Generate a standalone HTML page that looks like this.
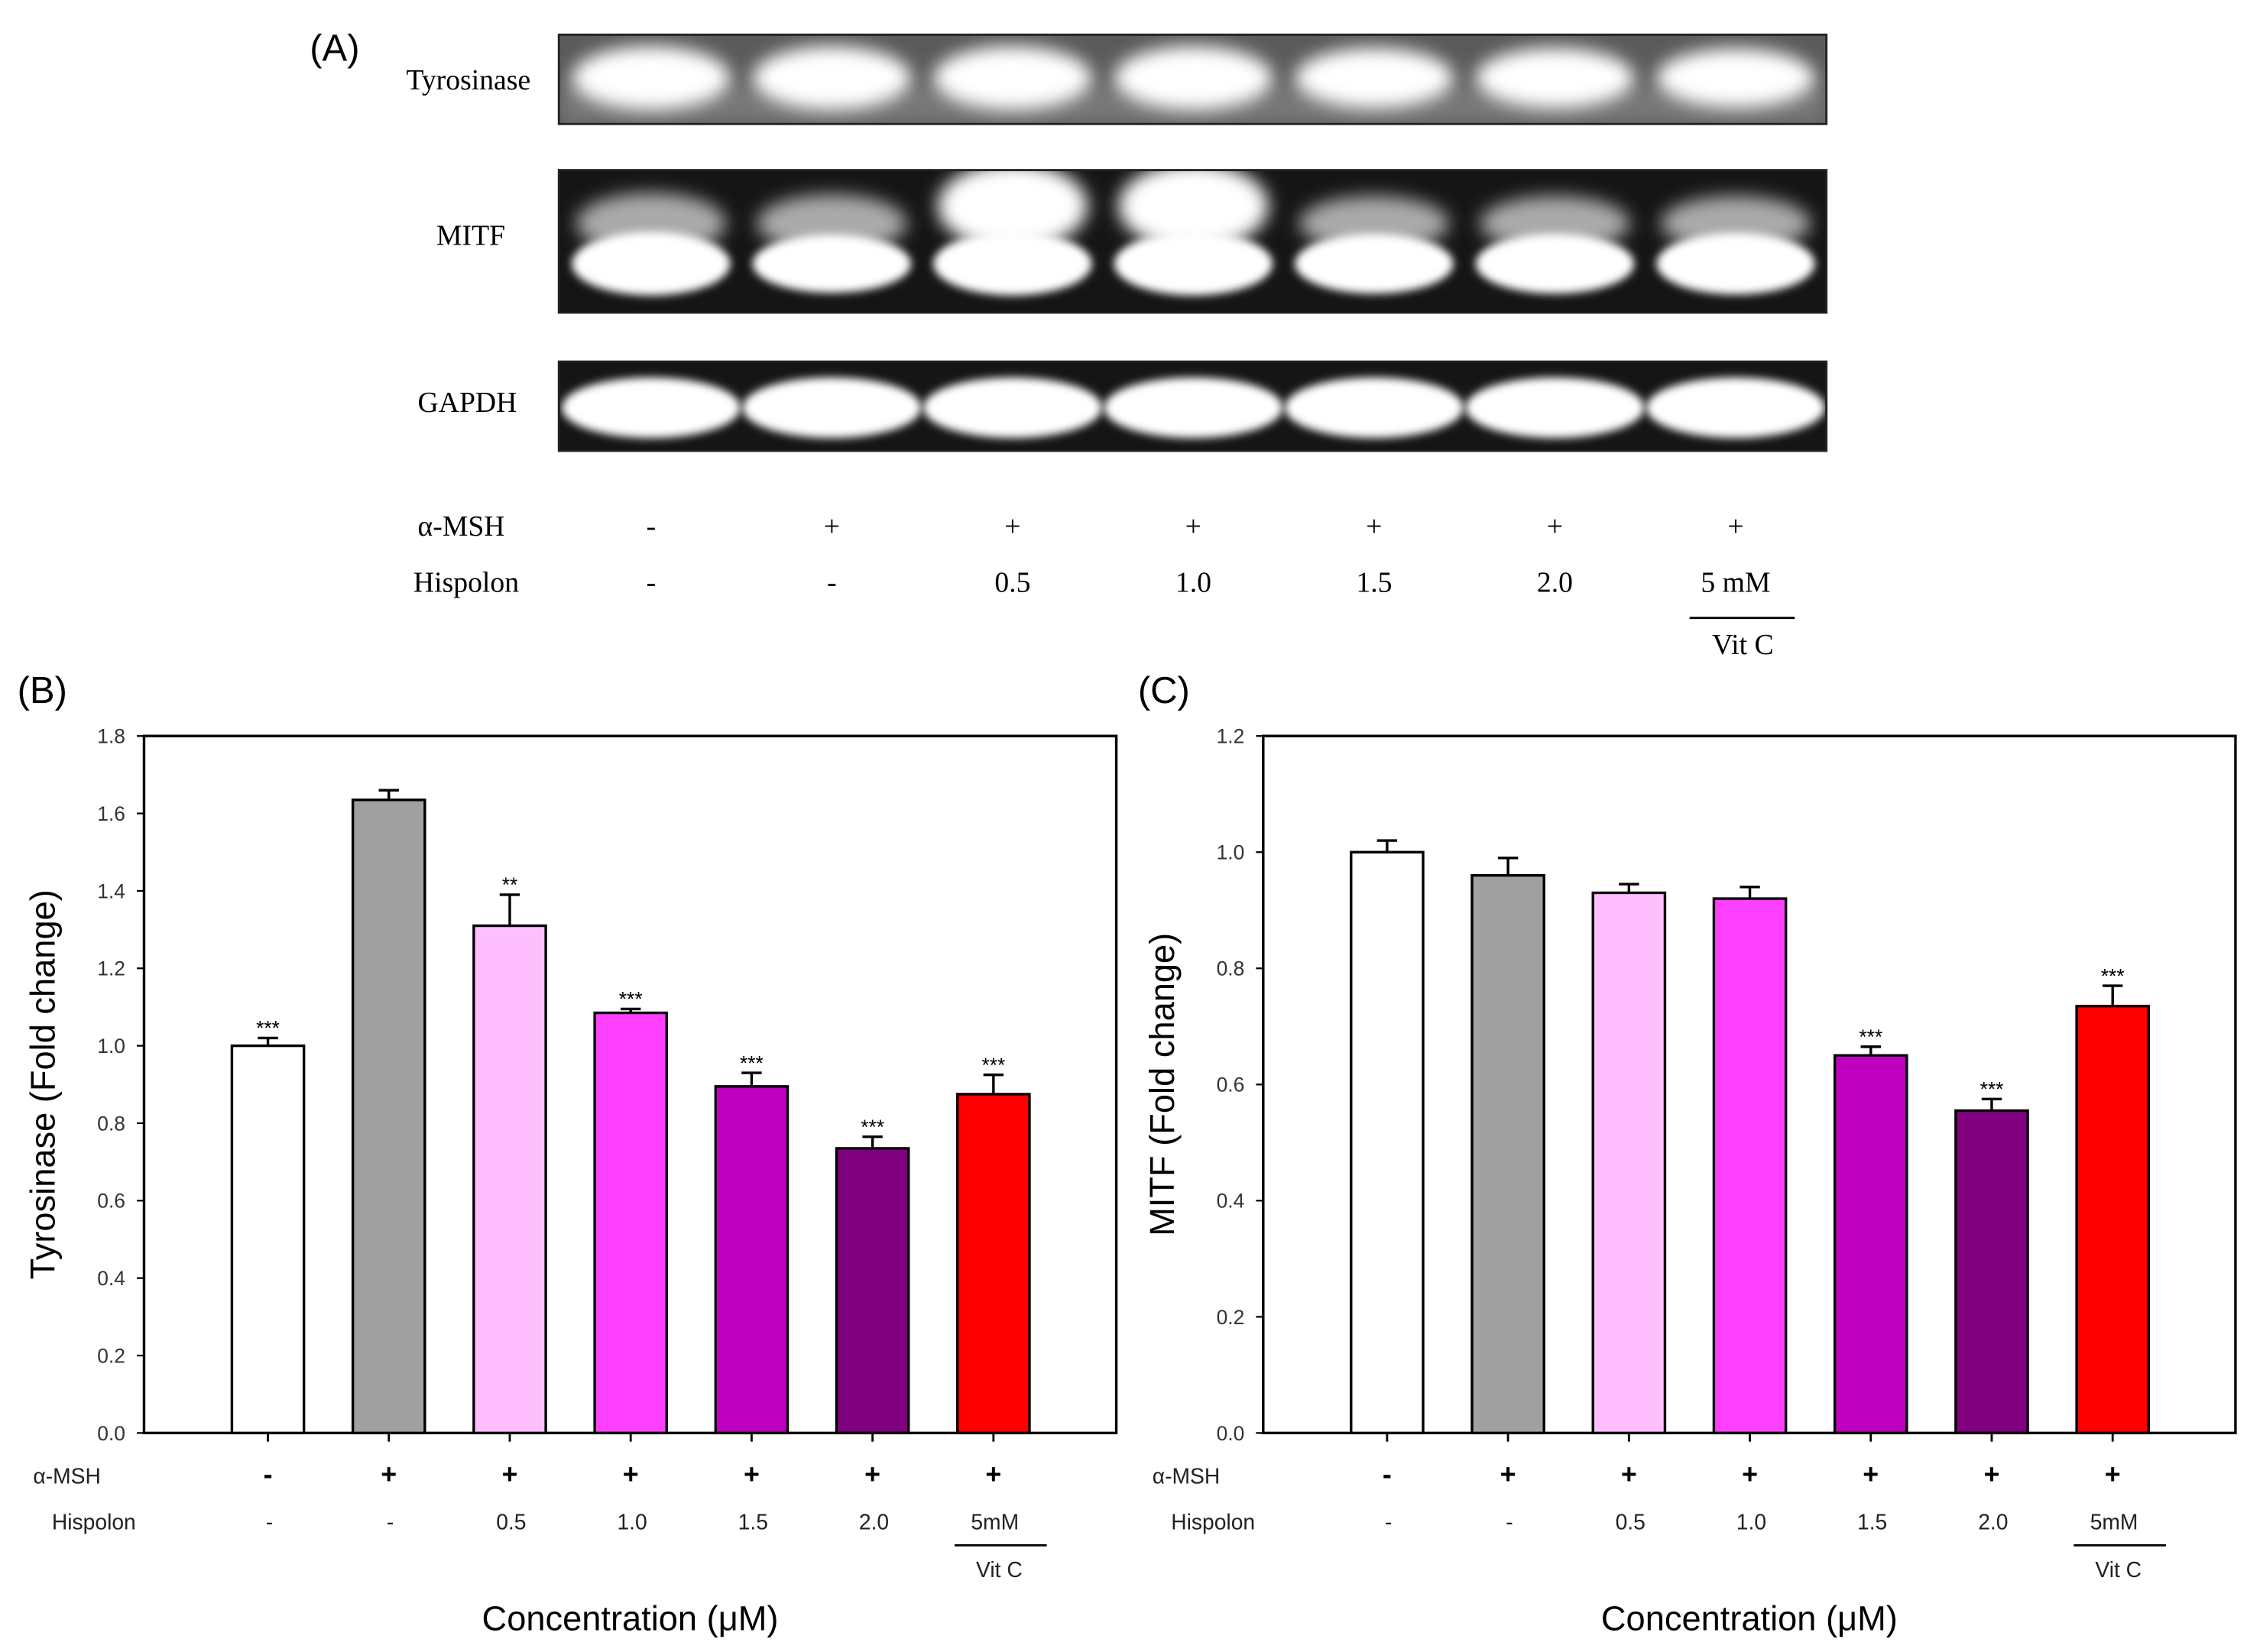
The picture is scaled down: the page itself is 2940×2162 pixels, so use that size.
<!DOCTYPE html>
<html><head><meta charset="utf-8"><style>
html,body{margin:0;padding:0;background:#fff;width:2940px;height:2162px;overflow:hidden}
svg{display:block}
.sans{font-family:"Liberation Sans",sans-serif}
.serif{font-family:"Liberation Serif",serif}
</style></head><body>
<svg id="fig" width="2940" height="2162" viewBox="0 0 1560 1147" xmlns="http://www.w3.org/2000/svg">
<defs>
<filter id="blur" x="-20%" y="-50%" width="140%" height="200%"><feGaussianBlur stdDeviation="6"/></filter>
<filter id="blur2" x="-20%" y="-50%" width="140%" height="200%"><feGaussianBlur stdDeviation="3"/></filter>
<clipPath id="c1"><rect x="388" y="24" width="880" height="62"/></clipPath>
<clipPath id="c2"><rect x="388" y="118" width="880" height="99"/></clipPath>
<clipPath id="c3"><rect x="388" y="251" width="880" height="62"/></clipPath>
</defs>
<g id="panelA"></g>
<g id="panelB"></g>
<g id="panelC"></g>
</svg>
<script>
const categories = ["control", "a-MSH", "0.5", "1.0", "1.5", "2.0", "VitC"];
const mshLabels = ["-", "+", "+", "+", "+", "+", "+"];
const hispolonLabels = ["-", "-", "0.5", "1.0", "1.5", "2.0", "5mM"];
const barColors = ["#ffffff", "#a0a0a0", "#ffbfff", "#ff40ff", "#c000c0", "#800080", "#ff0000"];
const tyrValues = [1.0, 1.635, 1.31, 1.085, 0.895, 0.735, 0.875];
const tyrErrors = [0.02, 0.025, 0.08, 0.01, 0.035, 0.03, 0.05];
const tyrSig = ["***", "", "**", "***", "***", "***", "***"];
const tyrTicks = [0, 0.2, 0.4, 0.6, 0.8, 1.0, 1.2, 1.4, 1.6, 1.8];
const mitfValues = [1.0, 0.96, 0.93, 0.92, 0.65, 0.555, 0.735];
const mitfErrors = [0.02, 0.03, 0.015, 0.02, 0.015, 0.02, 0.035];
const mitfSig = ["", "", "", "", "***", "***", "***"];
const mitfTicks = [0, 0.2, 0.4, 0.6, 0.8, 1.0, 1.2];
const blotTyr = [1.0, 1.0, 1.0, 1.0, 0.85, 0.85, 0.8];
const blotMitfUpper = [0.6, 0.55, 1.0, 1.0, 0.5, 0.5, 0.5];
const blotMitfLower = [1.0, 0.85, 1.0, 1.0, 0.9, 0.9, 0.95];
const blotGapdh = [1.0, 1.0, 1.0, 1.0, 1.0, 1.0, 1.0];

const NS = "http://www.w3.org/2000/svg";
function mk(parent, tag, attrs, text) {
  const e = document.createElementNS(NS, tag);
  for (const k in attrs) e.setAttribute(k, attrs[k]);
  if (text !== undefined) e.textContent = text;
  parent.appendChild(e);
  return e;
}

// ---------- Panel A ----------
const A = document.getElementById('panelA');
let t = mk(A, 'text', {x: 215, y: 42, 'font-size': 26, class: 'sans'}, '(A)');


const laneX = i => 452 + i * 125.5;
function blot(name, y, h, clip, bg, drawBands) {
  const g = mk(A, 'g', {'clip-path': 'url(#' + clip + ')'});
  
  
  mk(g, 'rect', {x: 388, y: y, width: 880, height: h, fill: bg});
  drawBands(g);
  mk(A, 'rect', {x: 388, y: y, width: 880, height: h, fill: 'none', stroke: '#222', 'stroke-width': 1.5});
}
blot('tyrosinase-blot', 24, 62, 'c1', '#5a5a5a', g => {
  mk(g, 'rect', {x: 388, y: 60, width: 880, height: 26, fill: '#777', filter: 'url(#blur)'});
  blotTyr.forEach((v, i) => {
    mk(g, 'ellipse', {cx: laneX(i), cy: 54, rx: 55, ry: 14 + 8 * v, fill: '#fff', filter: 'url(#blur)'});
  });
});
blot('mitf-blot', 118, 99, 'c2', '#151515', g => {
  blotMitfUpper.forEach((v, i) => {
    mk(g, 'ellipse', {cx: laneX(i), cy: 155 - (v > 0.9 ? 12 : 0), rx: 52, ry: 8 + 22 * v, fill: v > 0.9 ? '#fff' : '#aaa', filter: 'url(#blur)'});
  });
  blotMitfLower.forEach((v, i) => {
    mk(g, 'ellipse', {cx: laneX(i), cy: 183, rx: 55, ry: 10 + 12 * v, fill: '#fff', filter: 'url(#blur2)'});
  });
});
blot('gapdh-blot', 251, 62, 'c3', '#151515', g => {
  blotGapdh.forEach((v, i) => {
    mk(g, 'ellipse', {cx: laneX(i), cy: 283, rx: 62, ry: 21 * v, fill: '#fff', filter: 'url(#blur2)'});
  });
});
[['Tyrosinase', 282, 62, 'tyrosinase-row-label'], ['MITF', 303, 170, 'mitf-row-label'], ['GAPDH', 290, 286, 'gapdh-row-label']].forEach(r => {
  t = mk(A, 'text', {x: r[1], y: r[2], 'font-size': 20, class: 'serif'}, r[0]);
  
  
});
t = mk(A, 'text', {x: 290, y: 372, 'font-size': 20, class: 'serif'}, 'α-MSH');


t = mk(A, 'text', {x: 287, y: 411, 'font-size': 20, class: 'serif'}, 'Hispolon');


mshLabels.forEach((s, i) => {
  t = mk(A, 'text', {x: laneX(i), y: 372, 'font-size': 20, 'text-anchor': 'middle', class: 'serif'}, s);
  
  
  const h = i === 6 ? '5 mM' : hispolonLabels[i];
  t = mk(A, 'text', {x: laneX(i), y: 411, 'font-size': 20, 'text-anchor': 'middle', class: 'serif'}, h);
  
  
});
mk(A, 'line', {x1: 1173, x2: 1246, y1: 429, y2: 429, stroke: '#000', 'stroke-width': 1.5});
t = mk(A, 'text', {x: 1210, y: 454, 'font-size': 20, 'text-anchor': 'middle', class: 'serif'}, 'Vit C');



// ---------- Bar charts ----------
function chart(root, prefix, cfg) {
  const {left, right, top, bottom, ymax, values, errors, sig, ticks, title, label, labelX, titleX} = cfg;
  const y = v => bottom - (v / ymax) * (bottom - top);
  const step = (right - left) / 8;
  const x = i => left + 86 + i * step * 0.995;
  const bw = 50;
  t = mk(root, 'text', {x: labelX, y: 488, 'font-size': 26, class: 'sans'}, label);
  
  
  const frame = mk(root, 'rect', {x: left, y: top, width: right - left, height: bottom - top, fill: 'none', stroke: '#000', 'stroke-width': 1.8});
  
  
  ticks.forEach(v => {
    mk(root, 'line', {x1: left - 5, x2: left, y1: y(v), y2: y(v), stroke: '#000', 'stroke-width': 1.2});
    const tl = mk(root, 'text', {x: left - 13, y: y(v) + 5, 'font-size': 14, 'text-anchor': 'end', fill: '#333', class: 'sans'}, v.toFixed(1));
    
    
  });
  values.forEach((v, i) => {
    const cx = x(i);
    const e = errors[i];
    mk(root, 'line', {x1: cx, x2: cx, y1: y(v), y2: y(v + e), stroke: '#000', 'stroke-width': 1.8});
    mk(root, 'line', {x1: cx - 7, x2: cx + 7, y1: y(v + e), y2: y(v + e), stroke: '#000', 'stroke-width': 1.8});
    const b = mk(root, 'rect', {x: cx - bw / 2, y: y(v), width: bw, height: bottom - y(v), fill: barColors[i], stroke: '#000', 'stroke-width': 1.8});
    
    
    if (sig[i]) {
      const s = mk(root, 'text', {x: cx, y: y(v + e) - 2, 'font-size': 14, 'text-anchor': 'middle', class: 'sans'}, sig[i]);
      
      
    }
    mk(root, 'line', {x1: cx, x2: cx, y1: bottom, y2: bottom + 6, stroke: '#000', 'stroke-width': 1.5});
    const m = mk(root, 'text', {x: cx, y: 1030, 'font-size': 19, 'font-weight': 'bold', 'text-anchor': 'middle', class: 'sans'}, mshLabels[i]);
    
    
    const hl = mk(root, 'text', {x: cx + 1, y: 1062, 'font-size': 15, 'text-anchor': 'middle', fill: '#222', class: 'sans'}, hispolonLabels[i]);
    
    
  });
  const cx6 = x(6);
  mk(root, 'line', {x1: cx6 - 27, x2: cx6 + 37, y1: 1073, y2: 1073, stroke: '#000', 'stroke-width': 1.5});
  t = mk(root, 'text', {x: cx6 + 4, y: 1095, 'font-size': 15, 'text-anchor': 'middle', fill: '#222', class: 'sans'}, 'Vit C');
  
  
  t = mk(root, 'text', {x: left - 30, y: 1030, 'font-size': 15, 'text-anchor': 'end', fill: '#222', class: 'sans'}, 'α-MSH');
  
  
  t = mk(root, 'text', {x: left - 64, y: 1062, 'font-size': 15, fill: '#222', class: 'sans'}, 'Hispolon');
  
  
  t = mk(root, 'text', {x: (left + right) / 2, y: 1132, 'font-size': 24, 'text-anchor': 'middle', class: 'sans'}, 'Concentration (μM)');
  
  
  t = mk(root, 'text', {x: 0, y: 0, 'font-size': 24, 'text-anchor': 'middle', class: 'sans', transform: 'translate(' + titleX + ',' + (top + bottom) / 2 + ') rotate(-90)'}, title);
  
  
}
chart(document.getElementById('panelB'), 'tyrosinase', {left: 100, right: 775, top: 511, bottom: 995, ymax: 1.8, values: tyrValues, errors: tyrErrors, sig: tyrSig, ticks: tyrTicks, title: 'Tyrosinase (Fold change)', label: '(B)', labelX: 12, titleX: 38});
chart(document.getElementById('panelC'), 'mitf', {left: 877, right: 1552, top: 511, bottom: 995, ymax: 1.2, values: mitfValues, errors: mitfErrors, sig: mitfSig, ticks: mitfTicks, title: 'MITF (Fold change)', label: '(C)', labelX: 790, titleX: 815});
</script>
</body></html>
